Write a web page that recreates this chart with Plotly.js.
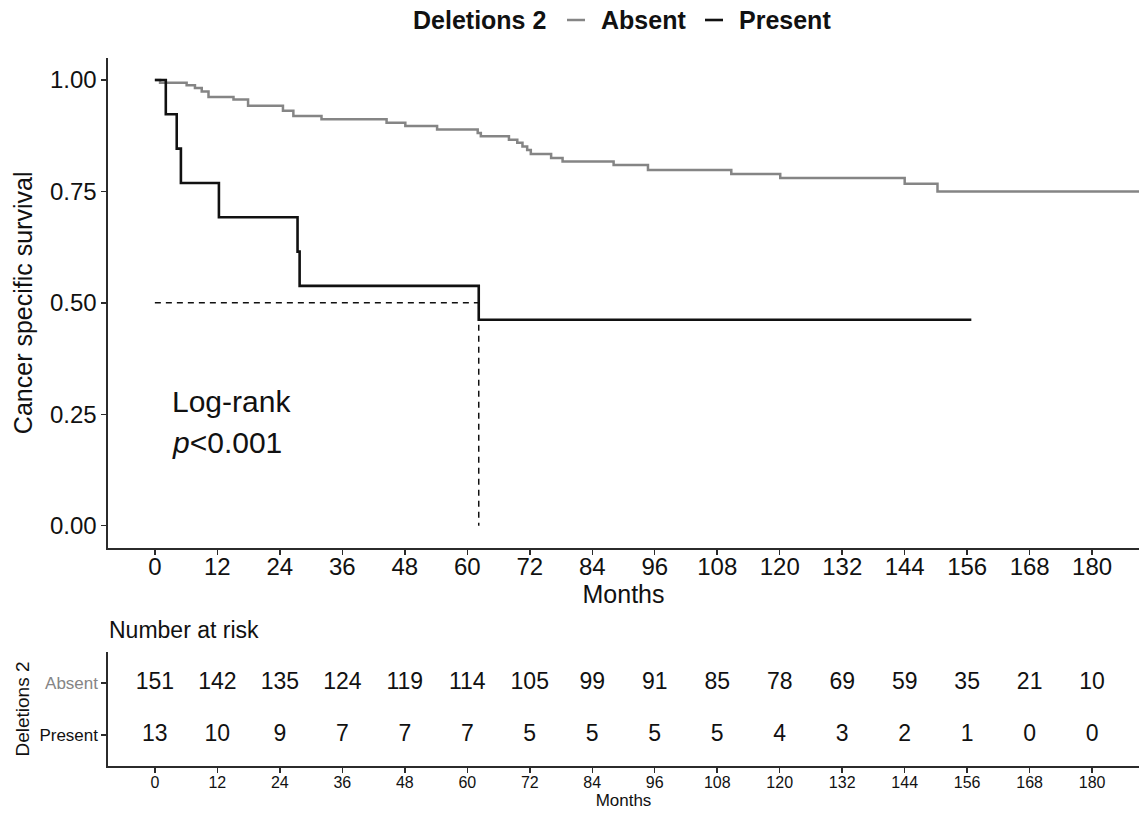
<!DOCTYPE html>
<html>
<head>
<meta charset="utf-8">
<script src="https://cdn.plot.ly/plotly-3.0.1.min.js"></script>
<style>html,body{margin:0;padding:0;background:#fff;}#chart{width:1139px;height:814px;}</style>
</head>
<body>
<div id="chart"></div>
<script>
// ---- Data ----
const absentTime = [0, 1, 6.1, 7.7, 9, 10.3, 15.1, 17.9, 24.6, 26.6, 32, 44.5, 48.1, 54.2, 62, 62.6, 68, 69.6, 70.6, 71.5, 72.2, 76.1, 78.3, 88.1, 94.7, 110.7, 120.1, 144, 150.3, 190];
const absentSurv = [1.0, 0.994, 0.988, 0.982, 0.974, 0.962, 0.956, 0.942, 0.931, 0.919, 0.912, 0.904, 0.897, 0.889, 0.881, 0.874, 0.866, 0.859, 0.851, 0.843, 0.834, 0.825, 0.817, 0.809, 0.798, 0.789, 0.780, 0.767, 0.750, 0.750];
const presentTime = [0, 2.1, 4.2, 5.0, 12.3, 27.4, 27.8, 62.2, 156.8];
const presentSurv = [1.0, 0.923, 0.846, 0.769, 0.692, 0.615, 0.538, 0.462, 0.462];

const riskMonths = [0, 12, 24, 36, 48, 60, 72, 84, 96, 108, 120, 132, 144, 156, 168, 180];
const absentRisk = [151, 142, 135, 124, 119, 114, 105, 99, 91, 85, 78, 69, 59, 35, 21, 10];
const presentRisk = [13, 10, 9, 7, 7, 7, 5, 5, 5, 5, 4, 3, 2, 1, 0, 0];

const yTicks = [0, 0.25, 0.5, 0.75, 1.0];
const groups = ['Absent', 'Present'];

// ---- Derived ----
let medianIdx = presentSurv.findIndex(v => v <= 0.5);
const medianTime = presentTime[medianIdx];

const W = 1139, H = 814;
const px = v => v / W;
const py = v => 1 - v / H;
const FONT = 'Liberation Sans, Arial, Helvetica, sans-serif';
const GREY = '#858585';
const AX = '#2b2b2b';

const traces = [
  {x: absentTime, y: absentSurv, type: 'scatter', mode: 'lines', line: {shape: 'hv', color: GREY, width: 2.5}, name: groups[0], xaxis: 'x', yaxis: 'y', hoverinfo: 'skip'},
  {x: presentTime, y: presentSurv, type: 'scatter', mode: 'lines', line: {shape: 'hv', color: '#111', width: 2.6}, name: groups[1], xaxis: 'x', yaxis: 'y', hoverinfo: 'skip'},
  {x: [0, medianTime], y: [0.5, 0.5], type: 'scatter', mode: 'lines', line: {color: '#111', width: 1.5, dash: '6px,5px'}, xaxis: 'x', yaxis: 'y', hoverinfo: 'skip'},
  {x: [medianTime, medianTime], y: [0.5, 0], type: 'scatter', mode: 'lines', line: {color: '#111', width: 1.5, dash: '6px,5px'}, xaxis: 'x', yaxis: 'y', hoverinfo: 'skip'},
  {x: riskMonths, y: riskMonths.map(() => 2), text: absentRisk.map(String), type: 'scatter', mode: 'text', textfont: {family: FONT, size: 23, color: '#111'}, xaxis: 'x2', yaxis: 'y2', hoverinfo: 'skip'},
  {x: riskMonths, y: riskMonths.map(() => 1), text: presentRisk.map(String), type: 'scatter', mode: 'text', textfont: {family: FONT, size: 23, color: '#111'}, xaxis: 'x2', yaxis: 'y2', hoverinfo: 'skip'}
];

const axisCommon = {
  showline: true, linecolor: AX, linewidth: 1.6, ticks: 'outside', ticklen: 5, tickwidth: 1.5, tickcolor: AX,
  showgrid: false, zeroline: false, fixedrange: true
};

const layout = {
  width: W, height: H,
  margin: {l: 0, r: 0, t: 0, b: 0},
  paper_bgcolor: '#fff', plot_bgcolor: '#fff',
  showlegend: false,
  font: {family: FONT, color: '#111'},
  xaxis: Object.assign({}, axisCommon, {
    domain: [px(108), 1], anchor: 'y', range: [-9, 189],
    tickmode: 'array', tickvals: riskMonths, ticktext: riskMonths.map(String),
    tickfont: {size: 24, color: '#111'}, ticklabelstandoff: -8,
    title: {text: 'Months', font: {size: 25, color: '#111'}, standoff: 0}
  }),
  yaxis: Object.assign({}, axisCommon, {
    domain: [py(548), py(57.7)], anchor: 'x', range: [-0.05, 1.05],
    tickmode: 'array', tickvals: yTicks, ticktext: yTicks.map(v => v.toFixed(2)),
    tickfont: {size: 24, color: '#111'},
    title: {text: 'Cancer specific survival', font: {size: 25, color: '#111'}, standoff: 10}
  }),
  xaxis2: Object.assign({}, axisCommon, {
    domain: [px(108), 1], anchor: 'y2', range: [-9, 189],
    tickmode: 'array', tickvals: riskMonths, ticktext: riskMonths.map(String),
    tickfont: {size: 16, color: '#111'}, ticklen: 5, ticklabelstandoff: -4,
    title: {text: 'Months', font: {size: 17, color: '#111'}, standoff: 0}
  }),
  yaxis2: Object.assign({}, axisCommon, {
    domain: [py(766), py(652)], anchor: 'x2', range: [0.4, 2.6],
    tickmode: 'array', tickvals: [2, 1],
    ticktext: ['<span style="color:' + GREY + '">' + groups[0] + '</span>', groups[1]],
    tickfont: {size: 17, color: '#111'}, ticklen: 5,
    title: {text: 'Deletions 2', font: {size: 19, color: '#111'}, standoff: 5}
  }),
  annotations: [
    {xref: 'x', yref: 'y', x: 3.0, y: 0.278, xanchor: 'left', yanchor: 'middle', text: 'Log-rank', showarrow: false, font: {size: 30, color: '#111'}},
    {xref: 'x', yref: 'y', x: 3.0, y: 0.186, xanchor: 'left', yanchor: 'middle', text: '<i>p</i>&lt;0.001', showarrow: false, font: {size: 30, color: '#111'}},
    {xref: 'paper', yref: 'paper', x: px(107), y: py(630), xanchor: 'left', yanchor: 'middle', text: 'Number at risk', showarrow: false, font: {size: 23, color: '#111'}},
    {xref: 'paper', yref: 'paper', x: px(411), y: py(20), xanchor: 'left', yanchor: 'middle', text: '<b>Deletions 2</b>', showarrow: false, font: {size: 25, color: '#111'}},
    {xref: 'paper', yref: 'paper', x: px(599), y: py(20), xanchor: 'left', yanchor: 'middle', text: '<b>' + groups[0] + '</b>', showarrow: false, font: {size: 25, color: '#111'}},
    {xref: 'paper', yref: 'paper', x: px(737), y: py(20), xanchor: 'left', yanchor: 'middle', text: '<b>' + groups[1] + '</b>', showarrow: false, font: {size: 25, color: '#111'}}
  ],
  shapes: [
    {type: 'line', xref: 'paper', yref: 'paper', x0: px(567), x1: px(585), y0: py(20), y1: py(20), line: {color: GREY, width: 2.5}},
    {type: 'line', xref: 'paper', yref: 'paper', x0: px(705), x1: px(723), y0: py(20), y1: py(20), line: {color: '#111', width: 2.6}}
  ]
};

Plotly.newPlot('chart', traces, layout, {displayModeBar: false, staticPlot: true});
</script>
</body>
</html>
